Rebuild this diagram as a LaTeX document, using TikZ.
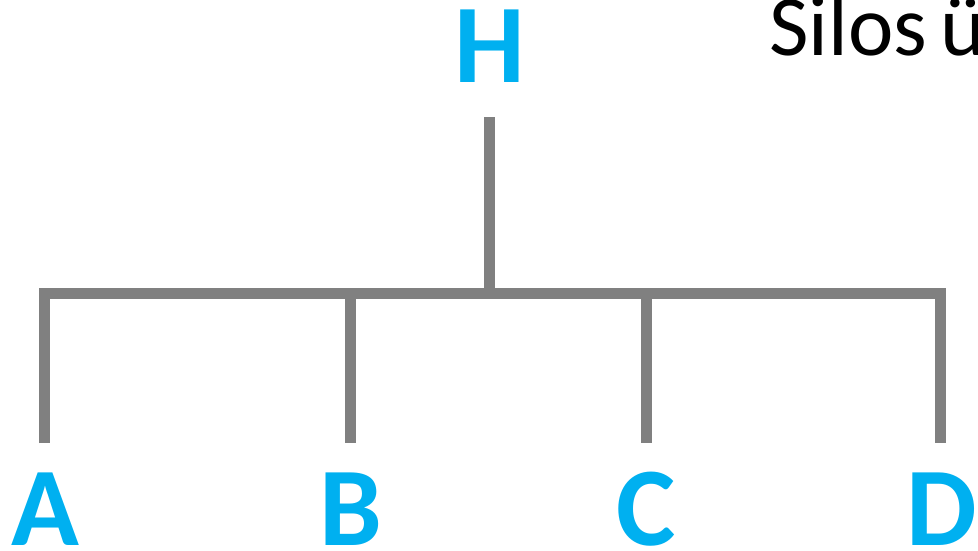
\documentclass[tikz,border=0pt]{standalone}
\usepackage{fontspec}
\setmainfont{Carlito}
\definecolor{cyanletter}{RGB}{0,176,240}
\definecolor{linegray}{RGB}{128,128,128}
\begin{document}
\begin{tikzpicture}[x=1pt,y=-1pt,
  letter/.style={font=\bfseries\fontsize{112}{112}\selectfont, text=cyanletter, inner sep=0pt, anchor=base},
  branch/.style={draw=linegray, line width=11pt, line cap=butt, line join=miter}]
\useasboundingbox (0,0) rectangle (978,551);
\node[inner sep=0pt, anchor=base west, font=\fontsize{86}{86}\selectfont] (title) at (769,56) {Silos\kern-6pt\ ü};
\node[letter] (H) at (489.5,83) {H};
\node[letter] (A) at (45,545) {A};
\node[letter] (B) at (351,545) {B};
\node[letter] (C) at (646,545) {C};
\node[letter] (D) at (942,545) {D};
\coordinate (htop) at (489.5,117);
\coordinate (hbar) at (489.5,293.5);
\coordinate (atop) at (44.5,293.5);
\coordinate (abot) at (44.5,443);
\coordinate (btop) at (350.5,293.5);
\coordinate (bbot) at (350.5,443);
\coordinate (ctop) at (646.5,293.5);
\coordinate (cbot) at (646.5,443);
\coordinate (dtop) at (940.5,293.5);
\coordinate (dbot) at (940.5,443);
\draw[branch] (htop) -- (hbar);
\draw[branch] (abot) -- (atop) -- (dtop) -- (dbot);
\draw[branch] (btop) -- (bbot);
\draw[branch] (ctop) -- (cbot);
\end{tikzpicture}
\end{document}
